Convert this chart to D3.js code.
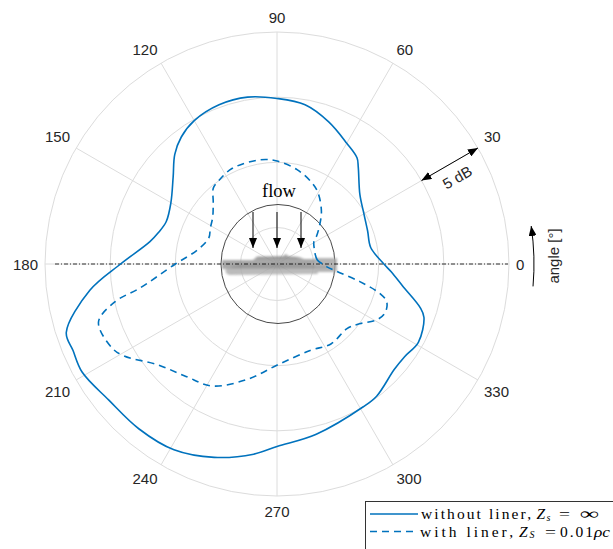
<!DOCTYPE html>
<html>
<head>
<meta charset="utf-8">
<script src="https://cdn.jsdelivr.net/npm/d3@7"></script>
<style>
  body { margin: 0; background: #fff; }
  svg { display: block; }
  .tick { font-family: "Liberation Sans", Arial, sans-serif; font-size: 15px; fill: #262626; }
  .serif { font-family: "Liberation Serif", "Times New Roman", serif; fill: #000; }
</style>
</head>
<body>
<svg id="chart" width="613" height="549"></svg>
<script>
// Directivity of the radiated sound level (dB) against polar angle (deg)
const angleTicks = [0, 30, 60, 90, 120, 150, 180, 210, 240, 270, 300, 330];
const ringLevels = [60, 65, 70, 75];
const levelRange = [57.2, 75];

// without liner, Z_s = infinity
const solidAngles = [0, 10, 20, 30, 40, 50, 53, 60, 70, 80, 90, 100, 110, 120, 127, 133, 140, 150, 159, 165, 170,
  180, 188, 198, 203, 209, 219, 230, 241, 252, 263, 270, 283, 301, 307, 318, 324, 331, 340, 343, 350, 356];
const solidLevels = [65.4, 64.5, 64.6, 64.9, 65.5, 66.9, 67.4, 67.9, 68.8, 69.6, 69.9, 70.2, 70.2, 69.9, 69.4, 68.7, 67.6, 66.6, 66.3, 66.6, 67.1,
  69.2, 71.7, 74.2, 74.2, 74.3, 73.8, 73.7, 73.5, 72.8, 71.9, 71.2, 70.6, 70.0, 69.9, 69.3, 69.3, 69.6, 69.2, 68.7, 67.0, 66.0];

// with liner, Z_S = 0.01 rho c
const linerAngles = [0, 6, 23, 31, 35, 43, 50, 60, 67, 78, 90, 99, 115, 125, 130, 136, 144, 152, 159, 170,
  180, 190, 193, 198, 207, 211, 220, 231, 242, 255, 271, 291, 304, 317, 323, 331, 336, 341, 344, 348, 353, 357];
const linerLevels = [60.7, 60.3, 60.3, 60.5, 60.9, 61.7, 62.5, 63.5, 64.0, 64.6, 65.1, 65.3, 65.3, 65.0, 64.8, 64.0, 63.3, 63.0, 62.8, 63.4,
  65.0, 67.9, 69.9, 71.6, 71.4, 70.9, 69.2, 68.3, 67.8, 66.4, 64.9, 64.3, 64.6, 64.5, 64.9, 66.0, 66.3, 66.1, 65.4, 63.7, 61.8, 61.0];

// legend entries: [text, style, x, width]
const legendRows = [
  { dash: null, parts: [
    ["without liner,", "", 421, 110], ["Z", "i", 536.5, 0], ["s", "sub", 546.5, 0],
    ["=", "", 559, 11], ["∞", "", 580, 19]] },
  { dash: "7,5", parts: [
    ["with liner,", "", 420, 93], ["Z", "i", 519, 0], ["S", "sub", 529.5, 0],
    ["=", "", 545, 11], ["0.01", "", 560, 33], ["ρc", "i", 594, 16]] }
];

const blue = "#0072BD";
const cx = 277, cy = 264, R = 232;

const svg = d3.select("#chart");
const defs = svg.append("defs");
defs.append("marker").attr("id", "head")
  .attr("viewBox", "0 0 10 8").attr("refX", 10).attr("refY", 4)
  .attr("markerWidth", 10).attr("markerHeight", 8)
  .attr("markerUnits", "userSpaceOnUse").attr("orient", "auto-start-reverse")
  .append("path").attr("d", "M0,0L10,4L0,8Z").attr("fill", "#000");
defs.append("filter").attr("id", "soft").append("feGaussianBlur").attr("stdDeviation", 0.8);

const r = d3.scaleLinear().domain(levelRange).range([0, R]);
const rad = d => d * Math.PI / 180;
const pt = (deg, rr) => [cx + rr * Math.cos(rad(deg)), cy - rr * Math.sin(rad(deg))];

const g = svg.append("g");

// polar grid
g.selectAll("circle.ring").data(ringLevels).join("circle")
  .attr("cx", cx).attr("cy", cy).attr("r", d => r(d))
  .attr("fill", "none").attr("stroke", "#dcdcdc").attr("stroke-width", 1);
g.selectAll("line.spoke").data(angleTicks).join("line")
  .attr("x1", cx).attr("y1", cy)
  .attr("x2", d => pt(d, R)[0]).attr("y2", d => pt(d, R)[1])
  .attr("stroke", "#dcdcdc").attr("stroke-width", 1);

// angle tick labels
angleTicks.forEach(a => {
  const c = Math.cos(rad(a)), s = Math.sin(rad(a));
  const [px, py] = pt(a, R + 7);
  const t = g.append("text").attr("class", "tick").text(a)
    .attr("text-anchor", "middle").attr("dominant-baseline", "central");
  const w = t.node().getComputedTextLength();
  const sx = Math.abs(c) < 1e-6 ? 0 : Math.sign(c);
  const sy = Math.abs(s) < 1e-6 ? 0 : Math.sign(s);
  t.attr("x", px + sx * w / 2).attr("y", py - sy * 8);
});

// flow sketch: nacelle cross-section, fuselage and arrows
const ill = g.append("g");
ill.append("ellipse").attr("cx", cx + 1).attr("cy", cy).attr("rx", 57).attr("ry", 59.5)
  .attr("fill", "none").attr("stroke", "#333").attr("stroke-width", 0.9);

const body = ill.append("g").attr("filter", "url(#soft)").attr("opacity", 0.85);
body.append("path")
  .attr("d", `M${cx-51},${cy+5} L${cx+40},${cy+5} L${cx+41},${cy+10} L${cx-48},${cy+11} Q${cx-53},${cy+9} ${cx-51},${cy+5}Z`)
  .attr("fill", "#b0b0b0");
body.append("path")
  .attr("d", `M${cx-55},${cy-4} L${cx-24},${cy-4} L${cx-20},${cy-7.5} L${cx+6},${cy-8} L${cx+9},${cy-10} L${cx+11},${cy-8} L${cx+22},${cy-7} L${cx+27},${cy-5} L${cx+60},${cy-5} L${cx+60},${cy+5} L${cx-55},${cy+5}Z`)
  .attr("fill", "#999");
body.append("rect").attr("x", cx + 38).attr("y", cy - 6).attr("width", 22).attr("height", 14)
  .attr("fill", "#a8a8a8");
body.append("path")
  .attr("d", `M${cx-40},${cy+1} L${cx+30},${cy} M${cx-45},${cy+3} L${cx+50},${cy+3} M${cx-20},${cy-6} L${cx+20},${cy-6}`)
  .attr("stroke", "#777").attr("stroke-width", 1).attr("fill", "none");

// wing-plane reference line
g.append("line").attr("x1", cx - 222).attr("x2", cx + 231).attr("y1", cy).attr("y2", cy)
  .attr("stroke", "#000").attr("stroke-width", 0.8).attr("stroke-dasharray", "4,2,1,2");

[-24, 0, 24].forEach(dx => {
  ill.append("line").attr("x1", cx + dx).attr("x2", cx + dx)
    .attr("y1", cy - 52).attr("y2", cy - 16)
    .attr("stroke", "#000").attr("stroke-width", 1).attr("marker-end", "url(#head)");
});
ill.append("text").attr("class", "serif").attr("x", cx + 2).attr("y", cy - 67)
  .attr("text-anchor", "middle").attr("font-size", 18.5).text("flow");

// directivity curves
const radial = d3.lineRadial().curve(d3.curveCatmullRomClosed.alpha(0.5))
  .angle(d => rad(90 - d[0])).radius(d => r(d[1]));
const curves = [
  { a: solidAngles, v: solidLevels, dash: null },
  { a: linerAngles, v: linerLevels, dash: "7,5" }
];
curves.forEach(c => {
  g.append("path").attr("transform", `translate(${cx},${cy})`)
    .attr("d", radial(c.a.map((a, i) => [a, c.v[i]])))
    .attr("fill", "none").attr("stroke", blue).attr("stroke-width", 1.6)
    .attr("stroke-dasharray", c.dash);
});

// 5 dB scale bar between the two outer rings
const [ax1, ay1] = pt(30, r(ringLevels[2]));
const [ax2, ay2] = pt(30, r(ringLevels[3]));
g.append("line").attr("x1", ax1).attr("y1", ay1).attr("x2", ax2).attr("y2", ay2)
  .attr("stroke", "#000").attr("stroke-width", 1)
  .attr("marker-start", "url(#head)").attr("marker-end", "url(#head)");
const mid = pt(30, r((ringLevels[2] + ringLevels[3]) / 2));
const lx = mid[0] + 15 * Math.sin(rad(30)), ly = mid[1] + 15 * Math.cos(rad(30));
g.append("text").attr("class", "tick").attr("font-size", 16).attr("text-anchor", "middle").attr("dominant-baseline", "central")
  .attr("transform", `translate(${lx},${ly}) rotate(-30)`).text("5 dB");

// angle direction arrow and label
const arcR = 257;
const [bx, by] = pt(-5, arcR), [tx, ty] = pt(8.5, arcR);
g.append("path").attr("d", `M${bx},${by} A${arcR},${arcR} 0 0 0 ${tx},${ty}`)
  .attr("fill", "none").attr("stroke", "#000").attr("stroke-width", 1).attr("marker-end", "url(#head)");
g.append("text").attr("class", "tick").attr("font-size", 16)
  .attr("text-anchor", "middle").attr("dominant-baseline", "central")
  .attr("transform", `translate(${cx + 276},${cy - 8}) rotate(-90)`).text("angle [°]");

// legend
const lg = svg.append("g");
lg.append("rect").attr("x", 365.5).attr("y", 501.5).attr("width", 260).attr("height", 60)
  .attr("fill", "#fff").attr("stroke", "#333").attr("stroke-width", 1);
legendRows.forEach((row, i) => {
  const y = 514 + i * 17.5;
  lg.append("line").attr("x1", 370).attr("x2", 418).attr("y1", y).attr("y2", y)
    .attr("stroke", blue).attr("stroke-width", 1.6).attr("stroke-dasharray", row.dash);
  row.parts.forEach(([s, style, x, w]) => {
    const t = lg.append("text").attr("class", "serif").attr("x", x).text(s);
    if (style === "sub") {
      t.attr("y", y + 6.5).attr("font-size", 10).attr("font-style", "italic");
    } else {
      t.attr("y", y + 5).attr("font-size", 15.5);
      if (style === "i") t.attr("font-style", "italic");
    }
    if (w) t.attr("textLength", w).attr("lengthAdjust", s.length > 2 ? "spacing" : "spacingAndGlyphs");
  });
});
</script>
</body>
</html>
